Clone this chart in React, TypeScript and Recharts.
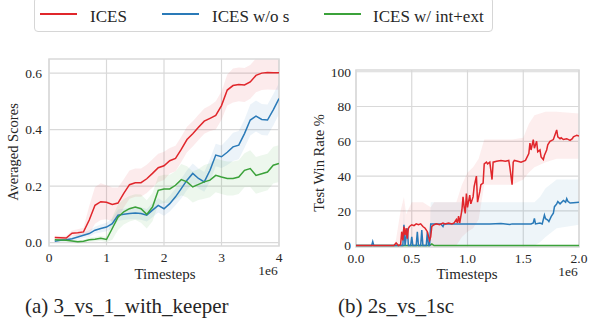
import React from 'react'
import {
  ComposedChart,
  Line,
  Area,
  XAxis,
  YAxis,
  CartesianGrid,
  ReferenceArea,
} from 'recharts'

const RED = '#e0262b'
const BLUE = '#2a7ab8'
const GREEN = '#3ba23a'
const GRID = '#d9d9d9'
const TEXT = '#262626'
const SERIF = '"Liberation Serif", "DejaVu Serif", serif'

// (a) 3_vs_1_with_keeper, timesteps in 1e6
const keeperSteps = [
  0.1, 0.2, 0.3, 0.4, 0.5, 0.6, 0.7, 0.8, 0.9, 1.0, 1.1, 1.2, 1.3, 1.4, 1.5, 1.6, 1.7, 1.8, 1.9, 2.0,
  2.1, 2.2, 2.3, 2.4, 2.5, 2.6, 2.7, 2.8, 2.9, 3.0, 3.1, 3.2, 3.3, 3.4, 3.5, 3.6, 3.7, 3.8, 3.9, 4.0,
]
const icesScore = [
  0.018, 0.017, 0.016, 0.033, 0.035, 0.038, 0.08, 0.132, 0.145, 0.143, 0.135, 0.14, 0.174, 0.205, 0.212, 0.212, 0.226, 0.245, 0.265, 0.272,
  0.29, 0.298, 0.33, 0.365, 0.385, 0.408, 0.43, 0.44, 0.45, 0.485, 0.54, 0.556, 0.56, 0.558, 0.569, 0.592, 0.6, 0.602, 0.601, 0.601,
]
const icesSpread = [
  0.006, 0.006, 0.008, 0.01, 0.012, 0.015, 0.05, 0.065, 0.065, 0.06, 0.06, 0.055, 0.05, 0.05, 0.05, 0.05, 0.05, 0.05, 0.05, 0.05,
  0.045, 0.045, 0.045, 0.045, 0.045, 0.045, 0.045, 0.045, 0.05, 0.05, 0.055, 0.06, 0.06, 0.06, 0.06, 0.06, 0.06, 0.06, 0.06, 0.06,
]
const woSScore = [
  0.005, 0.008, 0.01, 0.014, 0.02, 0.026, 0.032, 0.044, 0.05, 0.055, 0.067, 0.097, 0.1, 0.103, 0.105, 0.103, 0.097, 0.115, 0.132, 0.12,
  0.138, 0.162, 0.191, 0.221, 0.245, 0.227, 0.215, 0.256, 0.31, 0.304, 0.32, 0.339, 0.345, 0.386, 0.434, 0.448, 0.436, 0.434, 0.47, 0.51,
]
const woSSpread = [
  0.004, 0.005, 0.006, 0.008, 0.01, 0.01, 0.012, 0.012, 0.014, 0.015, 0.018, 0.02, 0.02, 0.02, 0.022, 0.022, 0.022, 0.025, 0.025, 0.025,
  0.028, 0.03, 0.035, 0.035, 0.035, 0.035, 0.035, 0.04, 0.04, 0.04, 0.045, 0.05, 0.05, 0.05, 0.055, 0.055, 0.055, 0.055, 0.055, 0.055,
]
const intExtScore = [
  0.01, 0.009, 0.008, 0.006, 0.003, 0.005, 0.01, 0.012, 0.015, 0.011, 0.05, 0.09, 0.109, 0.12, 0.126, 0.12, 0.1, 0.126, 0.185, 0.19,
  0.19, 0.203, 0.223, 0.215, 0.197, 0.206, 0.215, 0.221, 0.238, 0.232, 0.227, 0.227, 0.232, 0.256, 0.262, 0.238, 0.244, 0.25, 0.274, 0.28,
]
const intExtSpread = [
  0.004, 0.004, 0.005, 0.005, 0.005, 0.006, 0.008, 0.008, 0.008, 0.01, 0.04, 0.045, 0.045, 0.045, 0.045, 0.05, 0.05, 0.05, 0.05, 0.05,
  0.05, 0.05, 0.055, 0.055, 0.055, 0.055, 0.06, 0.06, 0.06, 0.06, 0.06, 0.06, 0.06, 0.06, 0.065, 0.065, 0.065, 0.065, 0.065, 0.065,
]
const keeperXTicks = [0, 1, 2, 3, 4]
const keeperYTicks = [0, 0.2, 0.4, 0.6]

// (b) 2s_vs_1sc, [timestep(1e6), win rate %]
const icesWin: [number, number][] = [
  [0, 0], [0.34, 0], [0.36, 1.5], [0.38, 0], [0.4, 0.5], [0.41, 8], [0.42, 3], [0.43, 11], [0.44, 6], [0.45, 10],
  [0.46, 4], [0.47, 10], [0.48, 11], [0.5, 12], [0.52, 11.5], [0.54, 12.5], [0.56, 12], [0.58, 12.5], [0.6, 11],
  [0.62, 10], [0.64, 8], [0.66, 3], [0.67, 5], [0.68, 11], [0.7, 12], [0.72, 12.5], [0.75, 12], [0.78, 13],
  [0.8, 12.5], [0.83, 13], [0.86, 12.5], [0.88, 13], [0.9, 15], [0.91, 13], [0.92, 17], [0.93, 13], [0.95, 20.5],
  [0.96, 28], [0.97, 22], [0.98, 18.5], [0.99, 30], [1.0, 22], [1.02, 29], [1.03, 24], [1.05, 28], [1.06, 34],
  [1.08, 40], [1.09, 25], [1.11, 31], [1.12, 35], [1.14, 36], [1.15, 47], [1.17, 48], [1.18, 47], [1.2, 48],
  [1.22, 38], [1.23, 48], [1.26, 48.5], [1.3, 49], [1.34, 48.5], [1.37, 49], [1.38, 45], [1.4, 35], [1.41, 48],
  [1.42, 49], [1.45, 48.5], [1.48, 48], [1.52, 49], [1.55, 53], [1.56, 59], [1.57, 55], [1.59, 61], [1.6, 56],
  [1.62, 60], [1.63, 54], [1.65, 55], [1.66, 51], [1.68, 49.5], [1.69, 52], [1.71, 55], [1.72, 58], [1.74, 60],
  [1.77, 61], [1.8, 66.5], [1.81, 62.5], [1.83, 61.5], [1.84, 62], [1.86, 61], [1.89, 61.5], [1.92, 60.5],
  [1.94, 61.5], [1.95, 62.5], [1.98, 63.5], [2.0, 63],
]
const woSWin: [number, number][] = [
  [0, 0], [0.14, 0], [0.15, 2.3], [0.16, 0], [0.42, 0], [0.43, 12], [0.44, 0], [0.46, 10], [0.47, 0], [0.49, 0],
  [0.5, 5], [0.51, 0], [0.54, 0], [0.55, 8], [0.56, 0], [0.58, 0], [0.59, 9], [0.6, 0], [0.63, 0], [0.64, 8],
  [0.65, 0], [0.66, 0], [0.67, 12.5], [0.76, 12.5], [0.78, 11], [0.79, 12.5], [1.0, 12.5], [1.2, 12.5], [1.3, 12.7],
  [1.38, 12.2], [1.4, 12.5], [1.57, 12.5], [1.59, 13], [1.6, 15.7], [1.61, 12.5], [1.65, 13], [1.67, 12.5],
  [1.69, 17.6], [1.7, 15.5], [1.72, 14.7], [1.73, 13.8], [1.75, 16.7], [1.77, 18.6], [1.78, 22.4], [1.8, 24],
  [1.81, 25.3], [1.83, 24], [1.86, 26], [1.88, 25], [1.89, 27], [1.9, 25.5], [1.92, 24.5], [1.95, 24.7], [2.0, 25],
]
const intExtWin: [number, number][] = [[0, 0], [0.66, 0], [0.68, 1], [0.7, 0], [2.0, 0]]
// [timestep, low, high]
const icesWinBand: [number, number, number][] = [
  [0.34, 0, 0], [0.36, 0, 4], [0.4, 0, 20], [0.43, 0, 28], [0.45, 0, 18], [0.5, 0, 25], [0.6, 0, 25], [0.67, 0, 22],
  [0.7, 0, 25], [0.9, 0, 25], [0.95, 5, 35], [1.0, 8, 42], [1.05, 10, 45], [1.1, 15, 50], [1.15, 35, 61],
  [1.4, 35, 61], [1.5, 38, 62], [1.55, 42, 70], [1.6, 45, 75], [1.7, 48, 77], [1.8, 50, 77], [2.0, 50, 76],
]
const woSWinBand: [number, number, number][] = [
  [0.42, 0, 0], [0.43, 0, 24], [0.44, 0, 0], [0.66, 0, 0], [0.67, 0, 25], [1.6, 0, 25], [1.65, 2, 28],
  [1.7, 5, 33], [1.8, 10, 38], [2.0, 12, 38],
]
const winXTicks = [0, 0.5, 1.0, 1.5, 2.0]
const winYTicks = [0, 20, 40, 60, 80, 100]

const keeperRows = keeperSteps.map((t, i) => ({
  t,
  ices: icesScore[i],
  icesBand: [icesScore[i] - icesSpread[i], icesScore[i] + icesSpread[i]],
  woS: woSScore[i],
  woSBand: [woSScore[i] - woSSpread[i], woSScore[i] + woSSpread[i]],
  intExt: intExtScore[i],
  intExtBand: [intExtScore[i] - intExtSpread[i], intExtScore[i] + intExtSpread[i]],
}))

const toRows = (pts: [number, number][]) => pts.map(([t, v]) => ({ t, v }))
const toBand = (pts: [number, number, number][]) => pts.map(([t, lo, hi]) => ({ t, band: [lo, hi] }))

const tickStyle = { fontSize: 13.5, fill: TEXT, fontFamily: SERIF }

function Txt({ x, y, size, children, rotate, anchor = 'left' }: any) {
  return (
    <div
      style={{
        position: 'absolute',
        left: x,
        top: y,
        fontSize: size,
        fontFamily: SERIF,
        color: TEXT,
        whiteSpace: 'nowrap',
        lineHeight: 1,
        transform: `${anchor === 'center' ? 'translate(-50%, -50%)' : 'translate(0, -50%)'}${rotate ? ` rotate(${rotate}deg)` : ''}`,
      }}
    >
      {children}
    </div>
  )
}

function KeeperChart() {
  return (
    <ComposedChart
      width={300}
      height={300}
      data={keeperRows}
      margin={{ top: 59, right: 21, bottom: 24, left: 0 }}
    >
      <CartesianGrid stroke={GRID} strokeWidth={1.2} horizontalValues={keeperYTicks} verticalValues={keeperXTicks} />
      <XAxis
        dataKey="t"
        type="number"
        domain={[0, 4]}
        ticks={keeperXTicks}
        allowDataOverflow
        height={30}
        axisLine={false}
        tickLine={false}
        tickSize={0}
        tickMargin={6}
        tick={tickStyle}
      />
      <YAxis
        type="number"
        domain={[-0.012, 0.65]}
        ticks={keeperYTicks}
        allowDataOverflow
        width={49}
        axisLine={false}
        tickLine={false}
        tickSize={0}
        tickMargin={7}
        tick={tickStyle}
        tickFormatter={(v: number) => v.toFixed(1)}
      />
      <Area dataKey="icesBand" stroke="none" fill={RED} fillOpacity={0.09} isAnimationActive={false} />
      <Area dataKey="woSBand" stroke="none" fill={BLUE} fillOpacity={0.09} isAnimationActive={false} />
      <Area dataKey="intExtBand" stroke="none" fill={GREEN} fillOpacity={0.09} isAnimationActive={false} />
      <Line dataKey="ices" stroke={RED} strokeWidth={1.5} dot={false} isAnimationActive={false} />
      <Line dataKey="woS" stroke={BLUE} strokeWidth={1.5} dot={false} isAnimationActive={false} />
      <Line dataKey="intExt" stroke={GREEN} strokeWidth={1.5} dot={false} isAnimationActive={false} />
      <ReferenceArea x1={0} x2={4} y1={-0.012} y2={0.65} fill="none" stroke={GRID} strokeWidth={1.5} ifOverflow="visible" />
    </ComposedChart>
  )
}

function WinChart() {
  return (
    <ComposedChart width={289} height={300} margin={{ top: 70, right: 10, bottom: 23, left: 0 }}>
      <CartesianGrid stroke={GRID} strokeWidth={1.2} horizontalValues={winYTicks} verticalValues={winXTicks} />
      <XAxis
        dataKey="t"
        type="number"
        domain={[0, 2]}
        ticks={winXTicks}
        allowDataOverflow
        height={30}
        axisLine={false}
        tickLine={false}
        tickSize={0}
        tickMargin={6}
        tick={tickStyle}
        tickFormatter={(v: number) => v.toFixed(1)}
      />
      <YAxis
        type="number"
        domain={[-0.8, 101]}
        ticks={winYTicks}
        allowDataOverflow
        width={56}
        axisLine={false}
        tickLine={false}
        tickSize={0}
        tickMargin={5}
        tick={tickStyle}
      />
      <Area data={toBand(icesWinBand)} dataKey="band" stroke="none" fill={RED} fillOpacity={0.08} isAnimationActive={false} />
      <Area data={toBand(woSWinBand)} dataKey="band" stroke="none" fill={BLUE} fillOpacity={0.08} isAnimationActive={false} />
      <Line data={toRows(intExtWin)} dataKey="v" stroke={GREEN} strokeWidth={1.5} dot={false} isAnimationActive={false} />
      <Line data={toRows(woSWin)} dataKey="v" stroke={BLUE} strokeWidth={1.5} dot={false} isAnimationActive={false} />
      <Line data={toRows(icesWin)} dataKey="v" stroke={RED} strokeWidth={1.5} dot={false} isAnimationActive={false} />
      <ReferenceArea x1={0} x2={2} y1={-0.8} y2={101} fill="none" stroke={GRID} strokeWidth={1.5} ifOverflow="visible" />
    </ComposedChart>
  )
}

const legendItems = [
  { name: 'ICES', color: RED, lineX: 40, textX: 90 },
  { name: 'ICES w/o s', color: BLUE, lineX: 162, textX: 212 },
  { name: 'ICES w/ int+ext', color: GREEN, lineX: 324, textX: 373 },
]

export default function App() {
  return (
    <div
      style={{
        position: 'absolute',
        left: 0,
        top: 0,
        width: 589,
        height: 332,
        background: '#fff',
        overflow: 'hidden',
        fontFamily: SERIF,
      }}
    >
      <style>{`.recharts-text, .recharts-cartesian-axis-tick-value { font-family: ${SERIF}; }`}</style>
      <div style={{ position: 'absolute', left: 0, top: 0 }}>
        <KeeperChart />
      </div>
      <div style={{ position: 'absolute', left: 300, top: 0 }}>
        <WinChart />
      </div>

      <div
        style={{
          position: 'absolute',
          left: 34,
          top: -3,
          width: 459,
          height: 35,
          border: '1px solid #d6d6d6',
          borderRadius: 4,
          boxSizing: 'border-box',
        }}
      />
      {legendItems.map((it) => (
        <React.Fragment key={it.name}>
          <div style={{ position: 'absolute', left: it.lineX, top: 13, width: 37, height: 2, background: it.color }} />
          <Txt x={it.textX} y={16} size={17}>{it.name}</Txt>
        </React.Fragment>
      ))}

      <Txt x={13} y={152} size={14.5} anchor="center" rotate={-90}>Averaged Scores</Txt>
      <Txt x={165} y={274} size={15} anchor="center">Timesteps</Txt>
      <Txt x={268} y={271} size={13.5} anchor="center">1e6</Txt>

      <Txt x={319} y={163} size={14.5} anchor="center" rotate={-90}>Test Win Rate %</Txt>
      <Txt x={467} y={274} size={15} anchor="center">Timesteps</Txt>
      <Txt x={568} y={272} size={13.5} anchor="center">1e6</Txt>

      <Txt x={25} y={306} size={21}>(a) 3_vs_1_with_keeper</Txt>
      <Txt x={338} y={306} size={21}>(b) 2s_vs_1sc</Txt>
    </div>
  )
}
